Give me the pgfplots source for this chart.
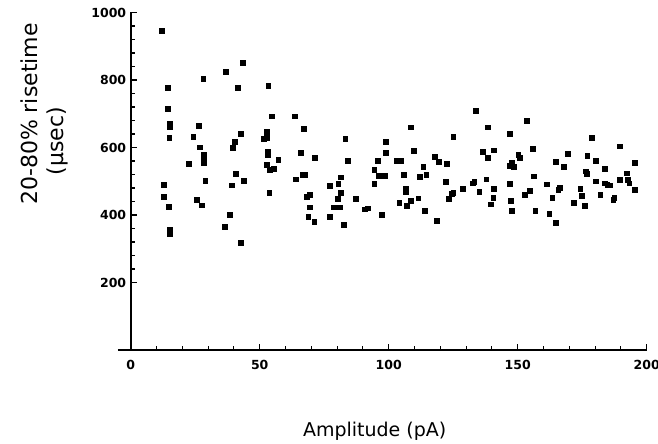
\documentclass[border=0pt]{standalone}
\usepackage{fontspec}
\setmainfont{DejaVu Sans}
\usepackage{pgfplots}
\pgfplotsset{compat=1.18}
\begin{document}
\begin{tikzpicture}
\useasboundingbox (-117.8pt,-94pt) rectangle (540.2pt,350pt);
\begin{axis}[
  at={(0pt,0pt)}, anchor=south west,
  scale only axis, width=528.9pt, height=337.5pt,
  xmin=-5, xmax=200, ymin=0, ymax=1000,
  axis x line=middle, axis y line=middle,
  axis line style={-, line width=1.6pt, black},
  xtick={0,50,100,150,200}, ytick={200,400,600,800,1000},
  minor x tick num=4, minor y tick num=4,
  xtick align=inside, ytick align=inside,
  major tick length=6pt, minor tick length=4pt,
  tick style={black, line width=1.1pt},
  hide obscured x ticks=false,
  hide obscured y ticks=false,
  /pgf/number format/assume math mode=true,
  /pgf/number format/1000 sep={},
  ticklabel style={font=\fontsize{12.5}{14}\selectfont\bfseries},
  xticklabel style={yshift=-7pt},
  yticklabel style={xshift=-1pt},
  clip=false,
]
\addplot[only marks, mark=square*, mark size=2.4pt, black] coordinates {
(12.0,946) (14.4,777) (14.2,715) (15.2,672) (15.2,662) (14.9,630)
(12.9,489) (12.9,454) (22.5,551) (24.2,632) (26.5,664) (26.6,601)
(28.1,805) (28.4,578) (28.4,565) (28.4,554) (28.9,502) (25.6,446)
(36.9,825) (41.6,777) (43.4,852) (42.7,642) (40.4,618) (39.5,600)
(40.8,522) (39.0,488) (43.9,502) (53.3,784) (54.7,693) (52.7,647)
(51.4,625) (52.7,628) (53.1,587) (53.1,577) (52.7,548) (54.0,535)
(55.3,538) (57.2,563) (53.7,467)
(14.7,425) (15.2,356) (15.2,343) (27.6,429) (36.5,366) (38.4,400) (42.5,318)
(63.7,693) (67.2,656) (65.9,584) (64.1,506) (66.5,520) (67.6,520)
(71.3,570) (68.2,454) (69.5,459) (69.5,423) (68.8,395) (71.1,380)
(83.1,627) (84.0,560) (77.0,486) (81.5,512) (80.4,492) (81.5,467)
(80.3,449) (78.8,423) (81.1,423) (77.2,395) (82.7,372) (87.2,449)
(90.8,417) (91.9,420) (97.4,400) (98.9,617) (98.7,585) (95.6,560)
(94.4,535) (96.2,517) (98.6,516) (94.4,492) (108.6,660) (109.7,591)
(103.1,560) (104.7,560) (105.9,519) (113.4,544) (112.1,514) (114.5,519)
(106.6,478) (106.6,469) (104.1,436) (107.1,427) (108.5,442) (111.4,450)
(114.0,412) (117.7,573) (119.5,558) (122.5,552) (122.1,498) (123.1,449)
(124.4,464) (125.0,466) (118.7,382) (125.0,633)
(133.7,709) (138.5,660) (136.5,587) (140.8,592) (138.4,569) (128.7,478)
(133.1,499) (132.6,494) (137.8,506) (135.1,468) (140.7,478) (140.5,452)
(139.4,432) (146.9,641) (153.5,679) (150.2,578) (150.9,570) (147.7,555)
(147.0,545) (148.6,543) (155.8,596) (156.3,515) (146.9,492) (147.3,442)
(147.8,413) (154.5,473) (152.8,461) (156.8,413) (161.1,491) (162.2,403)
(164.6,378) (163.4,452) (166.4,482) (165.7,474) (164.7,558) (167.8,543)
(169.5,581) (174.2,479) (174.9,456) (171.8,437) (176.1,427) (176.9,576)
(180.3,562) (178.7,629) (176.4,530) (176.8,522) (180.1,500) (183.8,537)
(183.6,494) (184.7,489) (185.8,488) (182.0,459) (187.0,446) (187.4,452)
(189.4,604) (189.4,504) (192.3,524) (192.5,504) (193.2,494) (195.5,555)
(195.5,474)
};
\end{axis}
\node[rotate=90, font=\fontsize{22}{26}\selectfont] at (-88.8pt,236pt) {20-80\% risetime};
\node[rotate=90, font=\fontsize{22}{26}\selectfont] at (-60.8pt,209pt) {(µsec)};
\node[font=\fontsize{19}{22}\selectfont] at (256.9pt,-81pt) {Amplitude (pA)};
\end{tikzpicture}
\end{document}
